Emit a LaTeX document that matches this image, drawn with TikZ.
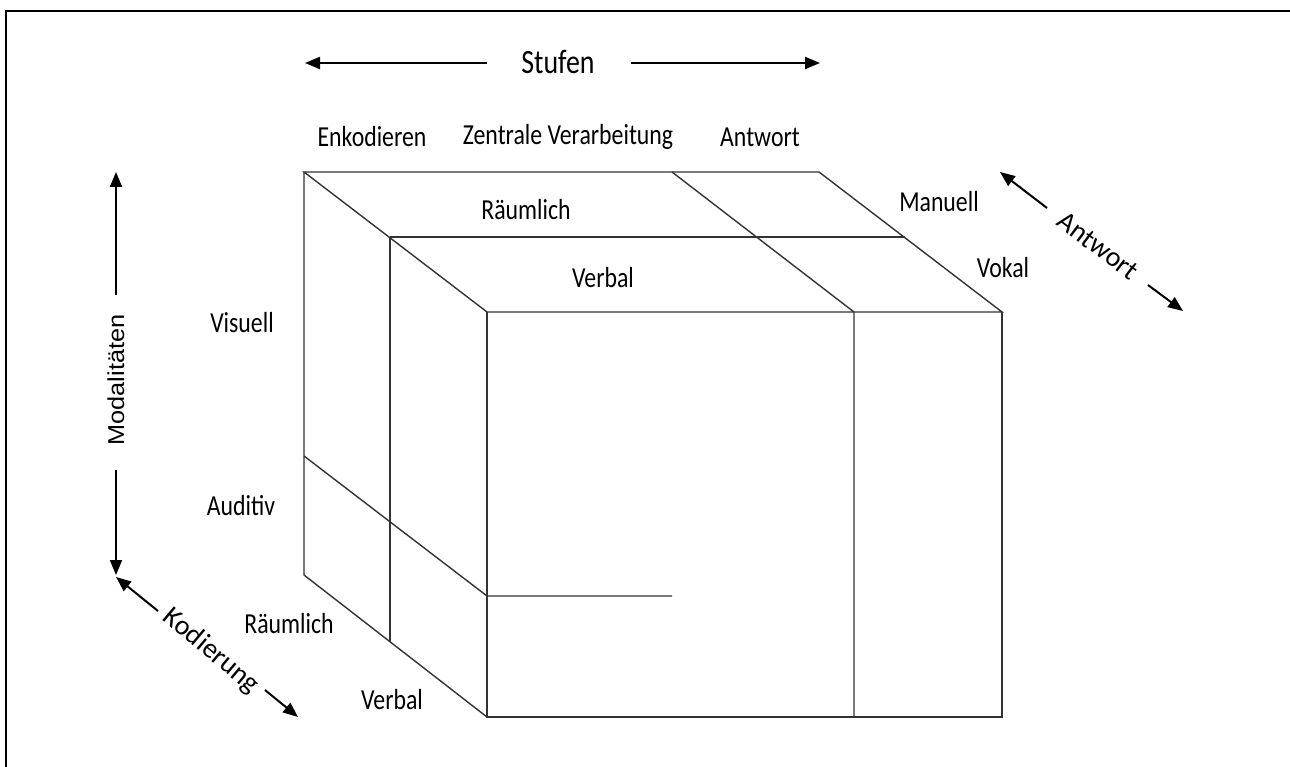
\documentclass[tikz,border=0pt]{standalone}
\usepackage{fontspec}
\usetikzlibrary{arrows.meta}
\newfontfamily\labfont[FakeStretch=0.82]{Carlito}
\newfontfamily\rotfont{Carlito}
\newfontfamily\modfont[FakeStretch=1.1]{Liberation Sans}
\begin{document}
\begin{tikzpicture}[x=1pt,y=-1pt,
  cube/.style={draw=black!80, line width=1.4pt},
  arr/.style={line width=2pt, -{Triangle[length=15pt,width=12pt]}},
  lab/.style={font=\labfont\fontsize{29}{33}\selectfont, inner sep=0pt},
  rotlab/.style={font=\rotfont\fontsize{28}{32}\selectfont, inner sep=0pt},
  big/.style={font=\labfont\fontsize{34}{38}\selectfont, inner sep=0pt},
  modlab/.style={font=\modfont\fontsize{23}{26}\selectfont, inner sep=0pt, rotate=90}]
\useasboundingbox (0,0) rectangle (1290,767);
% frame
\draw[line width=2.5pt] (6,767) -- (6,11) -- (1290,11);
% cube corners
\coordinate (A) at (304,172);
\coordinate (B) at (819,172);
\coordinate (C) at (487,312);
\coordinate (D) at (1002,312);
\coordinate (E) at (487,717);
\coordinate (F) at (1002,717);
\coordinate (G) at (304,575);
\coordinate (M1) at (390,237);
\coordinate (M2) at (905,237);
\coordinate (T1) at (672,172);
\coordinate (T2) at (854,312);
\coordinate (T3) at (854,717);
\coordinate (L1) at (304,456);
\coordinate (L2) at (487,596);
\coordinate (L3) at (672,596);
\coordinate (V2) at (390,642);
% cube edges
\draw[cube] (A) -- (B) -- (D) -- (C) -- cycle;
\draw[cube] (C) -- (E) -- (F) -- (D);
\draw[cube] (A) -- (G) -- (E);
\draw[cube] (M1) -- (M2);
\draw[cube] (T1) -- (T2) -- (T3);
\draw[cube] (L1) -- (L2) -- (L3);
\draw[cube] (M1) -- (V2);
% labels
\node[big] (stufen) at (558,62) {Stufen};
\node[lab] (enk) at (372,137) {Enkodieren};
\node[lab] (zv) at (568,137) {Zentrale Verarbeitung};
\node[lab] (antw) at (760,137) {Antwort};
\node[lab] (raum1) at (526,210) {Räumlich};
\node[lab] (verb1) at (603,278) {Verbal};
\node[lab] (man) at (939,202) {Manuell};
\node[lab] (vok) at (1003,268) {Vokal};
\node[lab] (vis) at (242,323) {Visuell};
\node[lab] (aud) at (241,506) {Auditiv};
\node[lab] (raum2) at (289,624) {Räumlich};
\node[lab] (verb2) at (392,700) {Verbal};
\node[modlab] (mod) at (116,380) {Modalitäten};
\node[rotlab, rotate=-40] (kod) at (211,651) {Kodierung};
\node[rotlab, rotate=-37] (antw2) at (1098,246) {Antwort};
% arrow ends
\coordinate (s1a) at (487,63);  \coordinate (s1b) at (305,63);
\coordinate (s2a) at (631,63);  \coordinate (s2b) at (820,63);
\coordinate (m1a) at (116,295); \coordinate (m1b) at (116,172);
\coordinate (m2a) at (116,470); \coordinate (m2b) at (116,575);
\coordinate (k1a) at (158,611); \coordinate (k1b) at (116,577);
\coordinate (k2a) at (265,690); \coordinate (k2b) at (298,717);
\coordinate (a1a) at (1047,208); \coordinate (a1b) at (1000,172);
\coordinate (a2a) at (1148,285); \coordinate (a2b) at (1183,311);
\draw[arr] (s1a) -- (s1b);
\draw[arr] (s2a) -- (s2b);
\draw[arr] (m1a) -- (m1b);
\draw[arr] (m2a) -- (m2b);
\draw[arr] (k1a) -- (k1b);
\draw[arr] (k2a) -- (k2b);
\draw[arr] (a1a) -- (a1b);
\draw[arr] (a2a) -- (a2b);
\end{tikzpicture}
\end{document}
